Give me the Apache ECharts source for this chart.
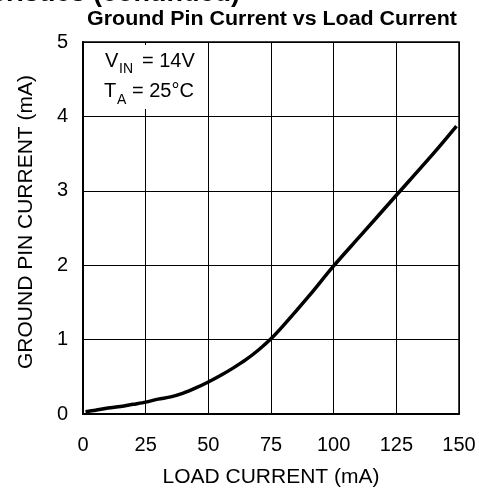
<!DOCTYPE html>
<html>
<head>
<meta charset="utf-8">
<script src="https://cdn.jsdelivr.net/npm/echarts@6/dist/echarts.min.js"></script>
<style>
html,body{margin:0;padding:0;background:#fff;}
#c{width:479px;height:493px;}
</style>
</head>
<body>
<div id="c"></div>
<script>
const loadCurrent = [1, 5, 10, 15, 20, 25, 30, 35, 40, 45, 50, 55, 60, 65, 70, 75, 80, 90, 100, 110, 125, 140, 149];
const groundPinCurrent = [0.03, 0.05, 0.08, 0.10, 0.13, 0.16, 0.20, 0.23, 0.28, 0.35, 0.43, 0.52, 0.62, 0.73, 0.86, 1.01, 1.19, 1.58, 1.99, 2.37, 2.94, 3.51, 3.87];
const xTicks = [0, 25, 50, 75, 100, 125, 150];
const yTicks = [0, 1, 2, 3, 4, 5];

const chart = echarts.init(document.getElementById('c'), null, {renderer: 'canvas'});
const font = 'Liberation Sans, Arial, sans-serif';
chart.setOption({
  animation: false,
  backgroundColor: '#fff',
  grid: {left: 83, right: 20, top: 42, bottom: 77, show: true, borderColor: '#000', borderWidth: 1.5, backgroundColor: 'transparent'},
  xAxis: {
    type: 'value', min: xTicks[0], max: xTicks[xTicks.length-1], interval: 25,
    name: 'LOAD CURRENT (mA)', nameLocation: 'middle', nameGap: 53,
    nameTextStyle: {fontFamily: font, fontSize: 21, color: '#000'},
    axisLine: {show: true, lineStyle: {color: '#000', width: 2}},
    axisTick: {show: false},
    axisLabel: {fontFamily: font, fontSize: 20, color: '#000', margin: 21},
    splitLine: {show: true, lineStyle: {color: '#000', width: 1}}
  },
  yAxis: {
    type: 'value', min: yTicks[0], max: yTicks[yTicks.length-1], interval: 1,
    axisLine: {show: true, lineStyle: {color: '#000', width: 2}},
    axisTick: {show: false},
    axisLabel: {fontFamily: font, fontSize: 20, color: '#000', margin: 15},
    splitLine: {show: true, lineStyle: {color: '#000', width: 1}}
  },
  series: [{
    type: 'line',
    data: loadCurrent.map((x, i) => [x, groundPinCurrent[i]]),
    smooth: 0.3,
    showSymbol: false,
    lineStyle: {color: '#000', width: 3.5},
    z: 5
  }],
  graphic: [
    {type: 'text', x: 240, y: 7, style: {text: 'Typical Characteristics (continued)', font: 'bold 27px ' + font, fill: '#000', textAlign: 'right', textVerticalAlign: 'bottom'}},
    {type: 'text', x: 272, y: 19, scaleX: 1.07, style: {text: 'Ground Pin Current vs Load Current', font: 'bold 20px ' + font, fill: '#000', textAlign: 'center', textVerticalAlign: 'middle'}},
    {type: 'text', x: 26, y: 222, rotation: Math.PI / 2, style: {text: 'GROUND PIN CURRENT (mA)', font: '21px ' + font, fill: '#000', textAlign: 'center', textVerticalAlign: 'middle'}},
    {type: 'rect', shape: {x: 88, y: 45, width: 114, height: 64}, style: {fill: '#fff'}, z: 10},
    {type: 'text', x: 105, y: 61, z: 11, style: {text: 'V', font: '20px ' + font, fill: '#000', textVerticalAlign: 'middle'}},
    {type: 'text', x: 119, y: 69, z: 11, style: {text: 'IN', font: '14px ' + font, fill: '#000', textVerticalAlign: 'middle'}},
    {type: 'text', x: 142, y: 61, z: 11, style: {text: '= 14V', font: '20px ' + font, fill: '#000', textVerticalAlign: 'middle'}},
    {type: 'text', x: 104, y: 91, z: 11, style: {text: 'T', font: '20px ' + font, fill: '#000', textVerticalAlign: 'middle'}},
    {type: 'text', x: 117, y: 100, z: 11, style: {text: 'A', font: '14px ' + font, fill: '#000', textVerticalAlign: 'middle'}},
    {type: 'text', x: 132, y: 91, z: 11, style: {text: '= 25°C', font: '20px ' + font, fill: '#000', textVerticalAlign: 'middle'}}
  ]
});
</script>
</body>
</html>
